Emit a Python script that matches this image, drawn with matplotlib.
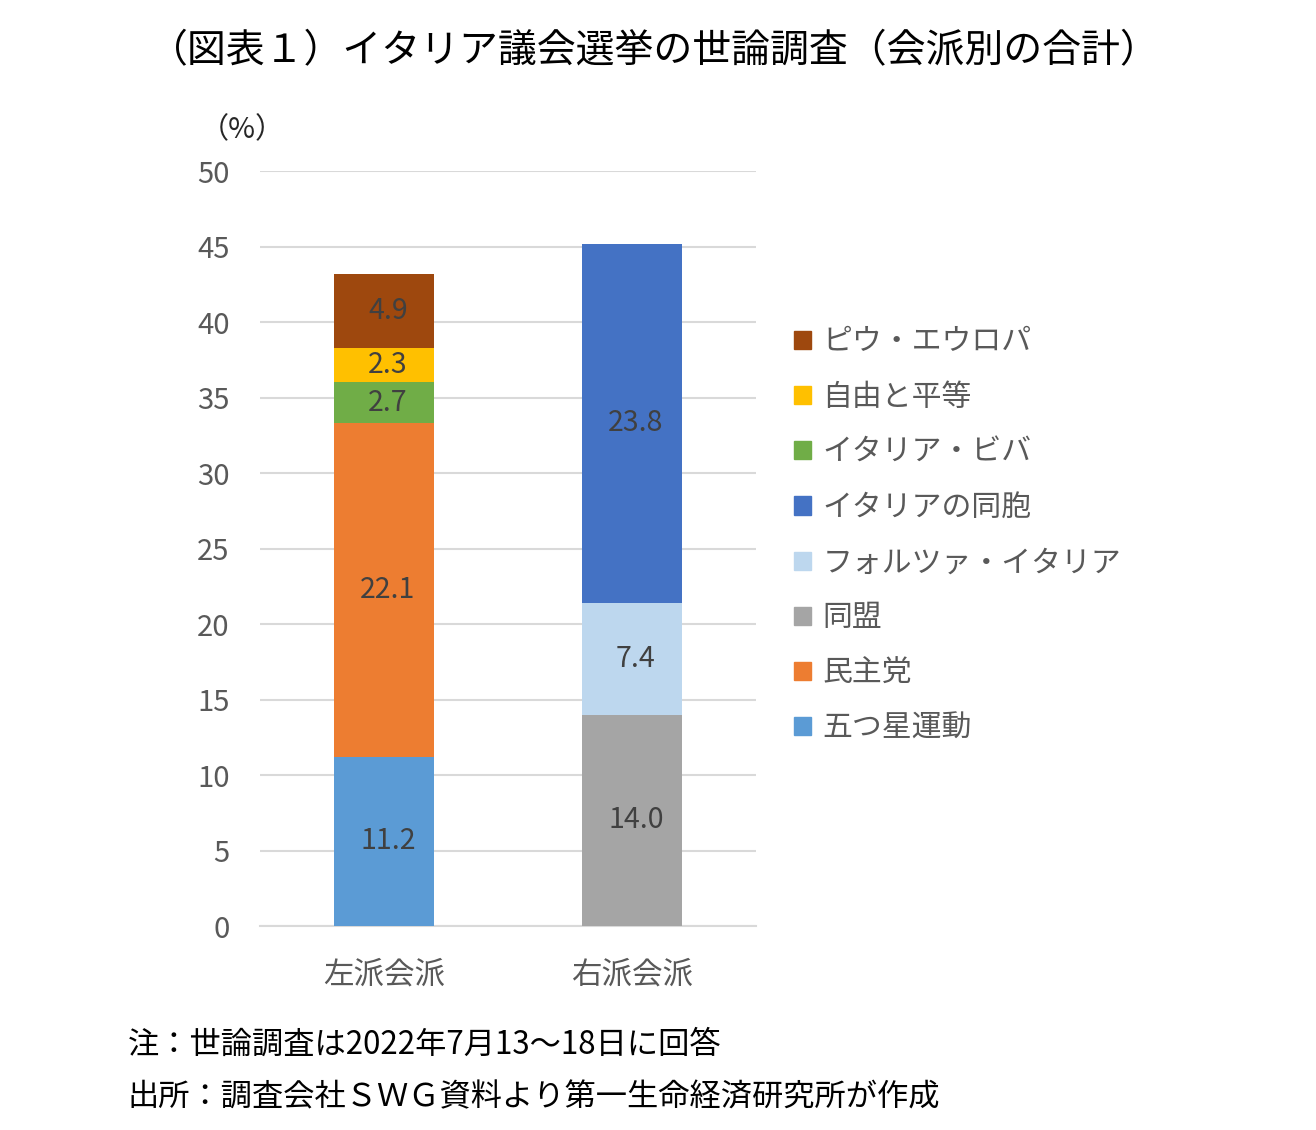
import matplotlib
matplotlib.use('Agg')
import matplotlib.pyplot as plt
from matplotlib.patches import Patch

plt.rcParams['font.family'] = ['Noto Sans CJK JP', 'DejaVu Sans']

# データ
groups = ['左派会派', '右派会派']
parties = ['五つ星運動', '民主党', '同盟', 'フォルツァ・イタリア', 'イタリアの同胞',
           'イタリア・ビバ', '自由と平等', 'ピウ・エウロパ']
left_vals = [11.2, 22.1, 0, 0, 0, 2.7, 2.3, 4.9]
right_vals = [0, 0, 14.0, 7.4, 23.8, 0, 0, 0]
colors = ['#5B9BD5', '#ED7D31', '#A5A5A5', '#BDD7EE', '#4472C4',
          '#70AD47', '#FFC000', '#9E480E']
yticks = [0, 5, 10, 15, 20, 25, 30, 35, 40, 45, 50]

fig = plt.figure(figsize=(13.16, 11.30), dpi=100)
ax = fig.add_axes([0.1976, 0.1805, 0.3769, 0.6681])

gray = '#595959'
bottoms = [0.0, 0.0]
for name, lv, rv, c in zip(parties, left_vals, right_vals, colors):
    vals = [lv, rv]
    ax.bar([0, 1], vals, width=0.4, bottom=bottoms, color=c, zorder=3)
    for i, v in enumerate(vals):
        if v > 0:
            ax.text(i + 0.015, bottoms[i] + v / 2, f'{v:.1f}', ha='center', va='center',
                    fontsize=20.5, color='#404040', zorder=4)
    bottoms = [bottoms[0] + lv, bottoms[1] + rv]

ax.set_xlim(-0.5, 1.5)
ax.set_ylim(0, 50)
ax.set_yticks(yticks)
ax.set_xticks([0, 1])
ax.set_xticklabels(groups)
ax.tick_params(axis='y', length=0, pad=22, labelsize=21, labelcolor=gray)
ax.tick_params(axis='x', length=0, pad=24, labelsize=22, labelcolor=gray)
ax.grid(axis='y', color='#D9D9D9', linewidth=1.5, zorder=0)
for s in ['top', 'right', 'left']:
    ax.spines[s].set_visible(False)
ax.spines['bottom'].set_color('#D9D9D9')
ax.spines['bottom'].set_linewidth(1.5)

# 凡例
handles = [Patch(color=c, label=p) for p, c in zip(parties, colors)][::-1]
leg = ax.legend(handles=handles, loc='upper left', bbox_to_anchor=(1.052, 0.81),
                frameon=False, fontsize=21.5, handlelength=0.56, handleheight=0.56,
                handletextpad=0.4, labelspacing=0.81, borderaxespad=0)
for t in leg.get_texts():
    t.set_color(gray)

fig.text(0.497, 0.955, '（図表１）イタリア議会選挙の世論調査（会派別の合計）',
         ha='center', va='center', fontsize=28, color='black')
fig.text(0.152, 0.885, '（%）', ha='left', va='center', fontsize=21, color='#262626')
fig.text(0.097, 0.075, '注：世論調査は2022年7月13～18日に回答',
         ha='left', va='center', fontsize=22.5, color='black')
fig.text(0.097, 0.029, '出所：調査会社ＳＷＧ資料より第一生命経済研究所が作成',
         ha='left', va='center', fontsize=22.5, color='black')

fig.savefig('out.png', dpi=100)
